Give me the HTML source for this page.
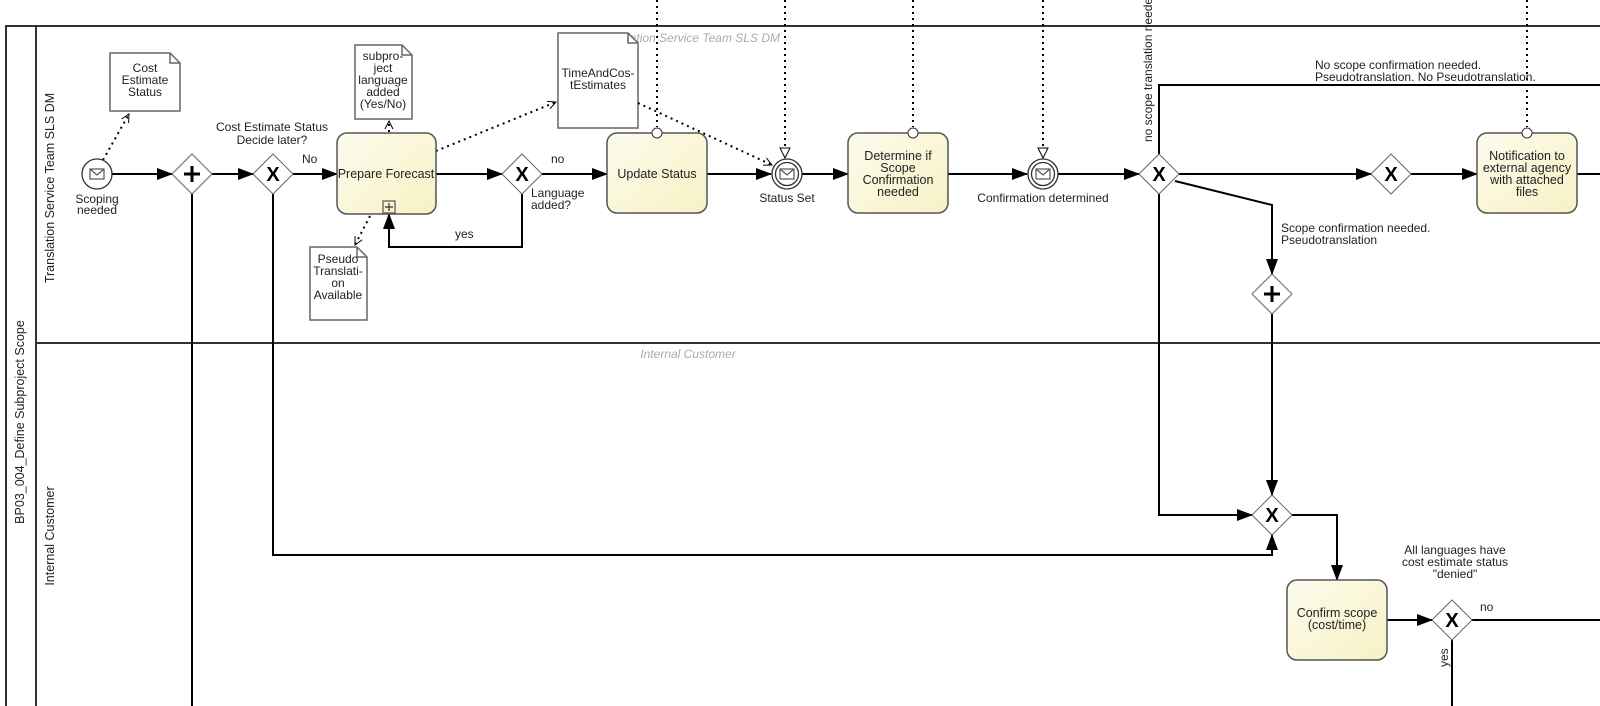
<!DOCTYPE html>
<html><head><meta charset="utf-8"><style>
html,body{margin:0;padding:0;background:#fff;}
svg{display:block;}
text{font-family:"Liberation Sans",sans-serif;font-size:12px;fill:#222;}
.t{font-size:12.5px;}
.wm{fill:#aaa;font-style:italic;font-size:12px;}
</style></head><body>
<svg width="1600" height="706" viewBox="0 0 1600 706" xmlns="http://www.w3.org/2000/svg">
<defs>
<marker id="a" markerWidth="16" markerHeight="12" refX="15" refY="6" orient="auto" markerUnits="userSpaceOnUse"><path d="M0,0 L16,6 L0,12 z" fill="#000"/></marker>
<marker id="o" markerWidth="10" markerHeight="10" refX="9" refY="5" orient="auto" markerUnits="userSpaceOnUse"><path d="M1,1 L9,5 L1,9" fill="none" stroke="#000" stroke-width="1"/></marker>
<linearGradient id="g" x1="0" y1="0" x2="1" y2="1"><stop offset="0" stop-color="#fdfcee"/><stop offset="1" stop-color="#f7f1c4"/></linearGradient>
</defs>

<rect x="6" y="26" width="1600" height="700" fill="none" stroke="#333" stroke-width="2"/>
<line x1="36" y1="26" x2="36" y2="706" stroke="#333" stroke-width="2"/>
<line x1="36" y1="343" x2="1600" y2="343" stroke="#333" stroke-width="2"/>
<text x="0" y="0" transform="translate(24,422) rotate(-90)" text-anchor="middle" class="t">BP03_004_Define Subproject Scope</text>
<text x="0" y="0" transform="translate(54,188) rotate(-90)" text-anchor="middle" class="t">Translation Service Team SLS DM</text>
<text x="0" y="0" transform="translate(54,536) rotate(-90)" text-anchor="middle" class="t">Internal Customer</text>
<text x="780" y="42" text-anchor="end" class="wm">Translation Service Team SLS DM</text>
<text x="688" y="358" text-anchor="middle" class="wm">Internal Customer</text>

<g stroke="#000" stroke-width="2" stroke-dasharray="2,4" fill="none">
<line x1="657" y1="0" x2="657" y2="127"/>
<line x1="785" y1="0" x2="785" y2="148"/>
<line x1="913" y1="0" x2="913" y2="127"/>
<line x1="1043" y1="0" x2="1043" y2="148"/>
<line x1="1527" y1="0" x2="1527" y2="127"/>
</g>
<g fill="#fff" stroke="#000" stroke-width="1">
<path d="M780,148 L790,148 L785,158 z"/>
<path d="M1038,148 L1048,148 L1043,158 z"/>
</g>

<g fill="#fff" stroke="#666" stroke-width="1.5">
<path d="M110,53 H170 L180,63 V111 H110 z"/><path d="M170,53 V63 H180" fill="none"/>
<path d="M355,45 H402 L412,55 V119 H355 z"/><path d="M402,45 V55 H412" fill="none"/>
<path d="M310,247 H357 L367,257 V320 H310 z"/><path d="M357,247 V257 H367" fill="none"/>
<path d="M558,33 H628 L638,43 V128 H558 z"/><path d="M628,33 V43 H638" fill="none"/>
</g>
<g text-anchor="middle">
<text x="145" y="72">Cost</text><text x="145" y="84">Estimate</text><text x="145" y="96">Status</text>
<text x="383" y="60">subpro-</text><text x="383" y="72">ject</text><text x="383" y="84">language</text><text x="383" y="96">added</text><text x="383" y="108">(Yes/No)</text>
<text x="338" y="263">Pseudo</text><text x="338" y="275">Translati-</text><text x="338" y="287">on</text><text x="338" y="299">Available</text>
<text x="598" y="77">TimeAndCos-</text><text x="598" y="89">tEstimates</text>
</g>

<g stroke="#000" stroke-width="2" stroke-dasharray="2,4" fill="none">
<line x1="103" y1="160" x2="129" y2="114" marker-end="url(#o)"/>
<line x1="389" y1="132" x2="389" y2="121" marker-end="url(#o)"/>
<line x1="370" y1="216" x2="355" y2="245" marker-end="url(#o)"/>
<line x1="436" y1="151" x2="556" y2="102" marker-end="url(#o)"/>
<line x1="638" y1="103" x2="772" y2="165" marker-end="url(#o)"/>
</g>

<g stroke="#000" stroke-width="2" fill="none">
<line x1="112" y1="174" x2="172" y2="174" marker-end="url(#a)"/>
<line x1="212" y1="174" x2="253" y2="174" marker-end="url(#a)"/>
<line x1="293" y1="174" x2="337" y2="174" marker-end="url(#a)"/>
<line x1="436" y1="174" x2="502" y2="174" marker-end="url(#a)"/>
<polyline points="522,194 522,247 389,247 389,214" marker-end="url(#a)"/>
<line x1="542" y1="174" x2="607" y2="174" marker-end="url(#a)"/>
<line x1="707" y1="174" x2="771" y2="174" marker-end="url(#a)"/>
<line x1="802" y1="174" x2="848" y2="174" marker-end="url(#a)"/>
<line x1="948" y1="174" x2="1027" y2="174" marker-end="url(#a)"/>
<line x1="1058" y1="174" x2="1139" y2="174" marker-end="url(#a)"/>
<line x1="1179" y1="174" x2="1371" y2="174" marker-end="url(#a)"/>
<line x1="1411" y1="174" x2="1477" y2="174" marker-end="url(#a)"/>
<line x1="1577" y1="174" x2="1600" y2="174"/>
<polyline points="1159,154 1159,85 1600,85"/>
<polyline points="1175,181 1272,205 1272,274" marker-end="url(#a)"/>
<line x1="1272" y1="314" x2="1272" y2="495" marker-end="url(#a)"/>
<polyline points="1159,194 1159,515 1252,515" marker-end="url(#a)"/>
<polyline points="273,194 273,555 1272,555 1272,535" marker-end="url(#a)"/>
<line x1="192" y1="194" x2="192" y2="706"/>
<polyline points="1292,515 1337,515 1337,580" marker-end="url(#a)"/>
<line x1="1387" y1="620" x2="1432" y2="620" marker-end="url(#a)"/>
<line x1="1472" y1="620" x2="1600" y2="620"/>
<line x1="1452" y1="640" x2="1452" y2="706"/>
</g>

<g fill="url(#g)" stroke="#555" stroke-width="1.5">
<rect x="337" y="133" width="99" height="81" rx="10"/>
<rect x="607" y="133" width="100" height="80" rx="10"/>
<rect x="848" y="133" width="100" height="80" rx="10"/>
<rect x="1477" y="133" width="100" height="80" rx="10"/>
<rect x="1287" y="580" width="100" height="80" rx="10"/>
</g>
<rect x="383" y="201" width="12" height="12" fill="none" stroke="#555" stroke-width="1.2"/>
<path d="M389,203 V211 M385,207 H393" stroke="#333" stroke-width="1.2"/>
<g fill="#fff" stroke="#333" stroke-width="1">
<circle cx="657" cy="133" r="5"/><circle cx="913" cy="133" r="5"/><circle cx="1527" cy="133" r="5"/>
</g>
<g text-anchor="middle">
<text x="386" y="178" class="t">Prepare Forecast</text>
<text x="657" y="178" class="t">Update Status</text>
<text x="898" y="160" class="t">Determine if</text><text x="898" y="172" class="t">Scope</text><text x="898" y="184" class="t">Confirmation</text><text x="898" y="196" class="t">needed</text>
<text x="1527" y="160" class="t">Notification to</text><text x="1527" y="172" class="t">external agency</text><text x="1527" y="184" class="t">with attached</text><text x="1527" y="196" class="t">files</text>
<text x="1337" y="617" class="t">Confirm scope</text><text x="1337" y="629" class="t">(cost/time)</text>
</g>

<g fill="#fff" stroke="#333" stroke-width="1.3">
<circle cx="97" cy="174" r="15"/>
<circle cx="787" cy="174" r="15"/><circle cx="787" cy="174" r="11.5"/>
<circle cx="1043" cy="174" r="15"/><circle cx="1043" cy="174" r="11.5"/>
</g>
<g fill="none" stroke="#555" stroke-width="1.2">
<rect x="90" y="169" width="14" height="10"/><path d="M90,169 L97,175 L104,169"/>
<rect x="780" y="169" width="14" height="10"/><path d="M780,169 L787,175 L794,169"/>
<rect x="1036" y="169" width="14" height="10"/><path d="M1036,169 L1043,175 L1050,169"/>
</g>
<g text-anchor="middle">
<text x="97" y="203">Scoping</text><text x="97" y="214">needed</text>
<text x="787" y="202">Status Set</text>
<text x="1043" y="202">Confirmation determined</text>
</g>

<g fill="#fff" stroke="#666" stroke-width="1">
<path d="M192,154 L212,174 L192,194 L172,174 z"/>
<path d="M273,154 L293,174 L273,194 L253,174 z"/>
<path d="M522,154 L542,174 L522,194 L502,174 z"/>
<path d="M1159,154 L1179,174 L1159,194 L1139,174 z"/>
<path d="M1391,154 L1411,174 L1391,194 L1371,174 z"/>
<path d="M1272,274 L1292,294 L1272,314 L1252,294 z"/>
<path d="M1272,495 L1292,515 L1272,535 L1252,515 z"/>
<path d="M1452,600 L1472,620 L1452,640 L1432,620 z"/>
</g>
<g stroke="#000" stroke-width="3">
<path d="M192,166 V182 M184,174 H200"/>
<path d="M1272,286 V302 M1264,294 H1280"/>
</g>
<g text-anchor="middle">
<text x="273" y="181" style="font-size:20px;font-weight:bold;fill:#000">X</text>
<text x="522" y="181" style="font-size:20px;font-weight:bold;fill:#000">X</text>
<text x="1159" y="181" style="font-size:20px;font-weight:bold;fill:#000">X</text>
<text x="1391" y="181" style="font-size:20px;font-weight:bold;fill:#000">X</text>
<text x="1272" y="522" style="font-size:20px;font-weight:bold;fill:#000">X</text>
<text x="1452" y="627" style="font-size:20px;font-weight:bold;fill:#000">X</text>
</g>

<text x="272" y="131" text-anchor="middle">Cost Estimate Status</text>
<text x="272" y="144" text-anchor="middle">Decide later?</text>
<text x="302" y="163">No</text>
<text x="455" y="238">yes</text>
<text x="551" y="163">no</text>
<text x="531" y="197">Language</text><text x="531" y="209">added?</text>
<text x="0" y="0" transform="translate(1152,142) rotate(-90)">no scope translation needed</text>
<text x="1315" y="69">No scope confirmation needed.</text>
<text x="1315" y="81">Pseudotranslation. No Pseudotranslation.</text>
<text x="1281" y="232">Scope confirmation needed.</text>
<text x="1281" y="244">Pseudotranslation</text>
<text x="1455" y="554" text-anchor="middle">All languages have</text>
<text x="1455" y="566" text-anchor="middle">cost estimate status</text>
<text x="1455" y="578" text-anchor="middle">"denied"</text>
<text x="1480" y="611">no</text>
<text x="0" y="0" transform="translate(1448,667) rotate(-90)">yes</text>
</svg>
</body></html>
